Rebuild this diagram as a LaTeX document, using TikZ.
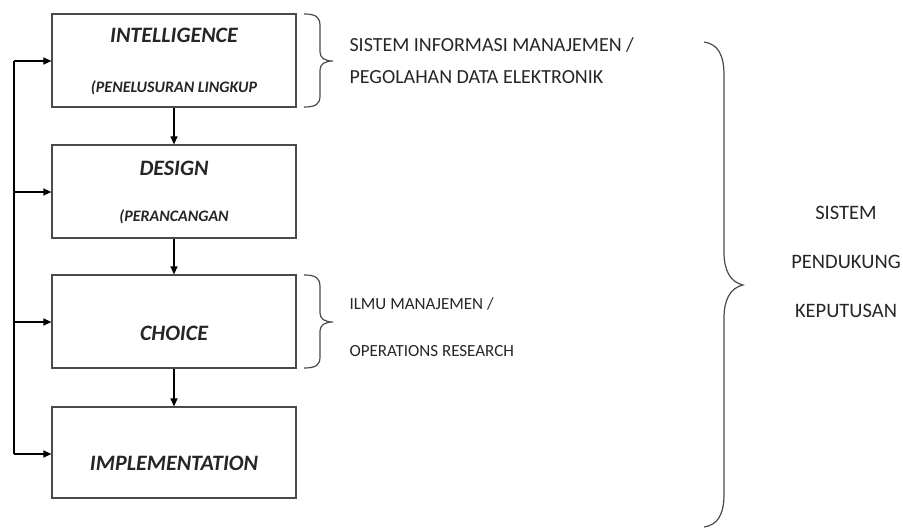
\documentclass[tikz,border=0pt]{standalone}
\usepackage{fontspec}
\setmainfont{Carlito}
\usetikzlibrary{arrows.meta}
\definecolor{ln}{HTML}{4A4A4A}
\definecolor{tx}{HTML}{262626}
\tikzset{
  stepbox/.style={draw=ln, line width=1.2pt, minimum width=244pt, minimum height=93pt, inner sep=0pt},
  ttl/.style={font=\fontsize{22}{26}\selectfont\bfseries\itshape, text=tx},
  sub/.style={font=\fontsize{16}{19}\selectfont\bfseries\itshape, text=tx},
  lbl/.style={font=\fontsize{20}{24}\selectfont, text=tx, anchor=west},
  slbl/.style={font=\fontsize{17}{20}\selectfont, text=tx, anchor=west},
  rlbl/.style={font=\fontsize{20.5}{24}\selectfont, text=tx},
  conn/.style={draw=black, line width=1.2pt, -{Triangle[length=8pt,width=7pt]}},
  brc/.style={draw=ln, line width=1.2pt}
}
\begin{document}
\begin{tikzpicture}[x=1pt,y=-1pt]
\useasboundingbox (0,0) rectangle (903,530);
\node[stepbox] (b1) at (174,60.5) {};
\node[stepbox] (b2) at (174,191.5) {};
\node[stepbox] (b3) at (174,321.5) {};
\node[stepbox, minimum height=91pt] (b4) at (174,452.5) {};
\node[ttl] (t1) at (174,35) {INTELLIGENCE};
\node[sub] (s1) at (174,88) {(PENELUSURAN LINGKUP};
\node[ttl] (t2) at (174,168) {DESIGN};
\node[sub] (s2) at (174,217) {(PERANCANGAN};
\node[ttl] (t3) at (174,333) {CHOICE};
\node[ttl] (t4) at (174,463) {IMPLEMENTATION};
% down arrows
\draw[conn] (b1.south) -- (b2.north);
\draw[conn] (b2.south) -- (b3.north);
\draw[conn] (b3.south) -- (b4.north);
% feedback line
\coordinate (f1) at (14,61);
\coordinate (f2) at (14,192);
\coordinate (f3) at (14,322);
\coordinate (f4) at (14,454);
\draw[draw=black, line width=1.2pt] (f1) -- (f4);
\draw[conn] (f1) -- (f1 -| b1.west);
\draw[conn] (f2) -- (f2 -| b2.west);
\draw[conn] (f3) -- (f3 -| b3.west);
\draw[conn] (f4) -- (f4 -| b4.west);
% brace 1
\draw[brc] (304,14) .. controls (316,14) and (320,17) .. (320,26) -- (320,52)
  .. controls (320,58) and (325,61) .. (333,61)
  .. controls (325,61) and (320,64) .. (320,70) -- (320,96)
  .. controls (320,104) and (316,107) .. (304,107);
\node[lbl] (l1) at (346,45) {SISTEM INFORMASI MANAJEMEN /};
\node[lbl] (l2) at (346,77) {PEGOLAHAN DATA ELEKTRONIK};
% brace 2
\draw[brc] (304,275) .. controls (316,275) and (320,278) .. (320,287) -- (320,313)
  .. controls (320,319) and (325,322) .. (333,322)
  .. controls (325,322) and (320,325) .. (320,331) -- (320,357)
  .. controls (320,365) and (316,368) .. (304,368);
\node[slbl] (l3) at (346,304) {ILMU MANAJEMEN /};
\node[slbl] (l4) at (346,351) {OPERATIONS RESEARCH};
% big brace
\draw[brc] (704,42) .. controls (718,44) and (724,55) .. (724,75) -- (724,252)
  .. controls (724,270) and (730,282) .. (743,285)
  .. controls (730,288) and (724,300) .. (724,318) -- (724,494)
  .. controls (724,514) and (718,525) .. (704,527);
\node[rlbl] (r1) at (846,213) {SISTEM};
\node[rlbl] (r2) at (846,262) {PENDUKUNG};
\node[rlbl] (r3) at (846,311) {KEPUTUSAN};
\end{tikzpicture}
\end{document}
